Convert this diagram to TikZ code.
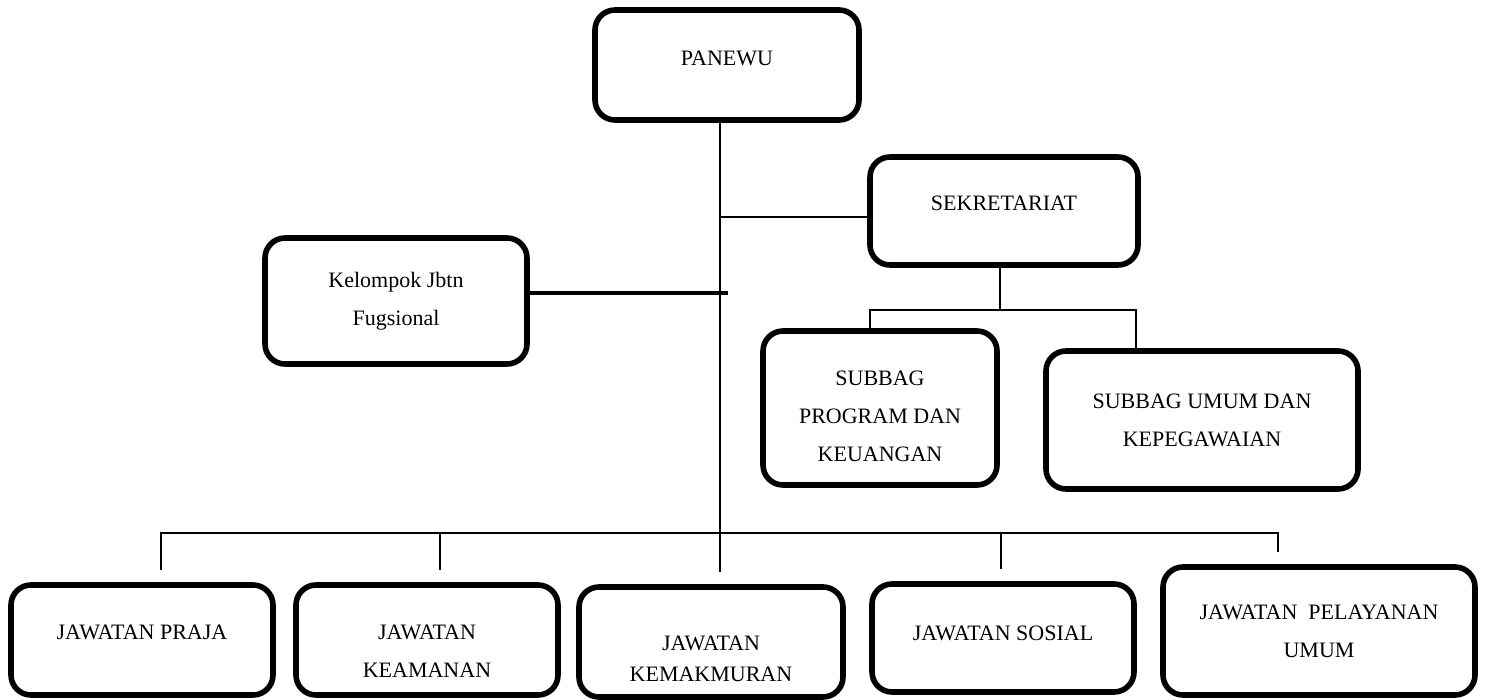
\documentclass[tikz,border=0pt]{standalone}
\usepackage{fontspec}
\setmainfont{Liberation Serif}
\tikzset{
  box/.style={draw, line width=2.8pt, rounded corners=10pt, align=center,
    inner sep=2pt, font=\fontsize{11}{19}\selectfont},
  link/.style={line width=0.9pt},
  thicklink/.style={line width=2pt}
}
\begin{document}
\begin{tikzpicture}[x=0.5pt,y=-0.5pt]
      \useasboundingbox (0,0) rectangle (1486,700);
      \draw
        (727,65) node[box, minimum width=132pt, minimum height=55pt] (panewu){PANEWU\\[-12pt]}
        (1004,211) node[box, minimum width=134pt, minimum height=54pt] (sekre){SEKRETARIAT\\[-11pt]}
        (396,301) node[box, minimum width=131pt, minimum height=63pt] (kelompok){Kelompok Jbtn\\Fugsional}
        (880,408) node[box, minimum width=117pt, minimum height=77pt] (subprog){\mbox{}\\[-3.7pt]SUBBAG\\PROGRAM DAN\\KEUANGAN}
        (1202,420) node[box, minimum width=156pt, minimum height=69pt] (subumum){SUBBAG UMUM DAN\\KEPEGAWAIAN}
        (142,640) node[box, minimum width=131pt, minimum height=55pt] (praja){JAWATAN PRAJA\\[-11pt]}
        (427,640) node[box, minimum width=131pt, minimum height=55pt] (keamanan){\mbox{}\\[-0.7pt]JAWATAN\\KEAMANAN}
        (711,642) node[box, minimum width=132pt, minimum height=55pt] (kemakmuran){\mbox{}\\[5.5pt]JAWATAN\\[-3.5pt]KEMAKMURAN}
        (1003,638) node[box, minimum width=131pt, minimum height=54pt] (sosial){JAWATAN SOSIAL\\[-14pt]}
        (1319,631) node[box, minimum width=156pt, minimum height=64pt] (pelayanan){JAWATAN\ \ PELAYANAN\\UMUM};
      % junction points
      \coordinate (bus) at (720,533);
      \coordinate (sj) at (720,217);
      \coordinate (kj) at (728,293);
      \coordinate (sb) at (1000,310);
      \begin{scope}[link]
        \draw (panewu.south -| bus) -- ([yshift=6pt]kemakmuran.north -| bus);
        \draw (sj) -- (sj -| sekre.west);
        \draw (sekre.south -| sb) -- (sb);
        \draw (subprog.north -| 870,0) |- (sb) -| (subumum.north -| 1136,0);
        \draw ([yshift=6pt]praja.north -| 161,0) |- (bus) -| ([yshift=6pt]pelayanan.north -| 1278,0);
        \draw (bus -| 440,0) -- ([yshift=6pt]keamanan.north -| 440,0);
        \draw (bus -| 1001,0) -- ([yshift=6pt]sosial.north -| 1001,0);
      \end{scope}
      \draw[thicklink] (kj -| kelompok.east) -- (kj);
    \end{tikzpicture}
\end{document}
